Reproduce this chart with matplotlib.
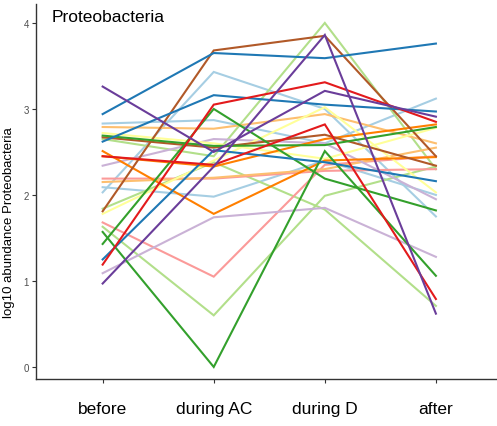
import matplotlib
matplotlib.use("Agg")
import matplotlib.pyplot as plt

plt.rcParams['font.family'] = ['Liberation Sans', 'DejaVu Sans']

categories = ["before", "during AC", "during D", "after"]
y_ticks = [0, 1, 2, 3, 4]
title = "Proteobacteria"
y_label = "log10 abundance Proteobacteria"

# Paired palette colours
c_lblue = "#A6CEE3"
c_blue = "#1F78B4"
c_lgreen = "#B2DF8A"
c_green = "#33A02C"
c_pink = "#FB9A99"
c_red = "#E31A1C"
c_lorange = "#FDBF6F"
c_orange = "#FF7F00"
c_lpurple = "#CAB2D6"
c_purple = "#6A3D9A"
c_yellow = "#FFFF99"
c_brown = "#B15928"

# series values (before, during AC, during D, after)
blue_1 = [2.94, 3.65, 3.59, 3.76]
blue_2 = [2.62, 3.16, 3.05, 2.97]
blue_3 = [1.25, 2.52, 2.38, 2.16]
lblue_1 = [2.03, 3.43, 3.00, 1.75]
lblue_2 = [2.83, 2.87, 2.60, 3.12]
lblue_3 = [2.09, 1.98, 2.40, 2.00]
green_1 = [1.57, 0.00, 2.51, 1.06]
green_2 = [1.43, 3.00, 2.19, 1.82]
green_3 = [2.69, 2.57, 2.58, 2.79]
lgreen_1 = [1.63, 0.60, 1.99, 2.33]
lgreen_2 = [1.84, 2.38, 1.83, 0.71]
lgreen_3 = [2.65, 2.45, 4.00, 2.30]
red_1 = [1.19, 3.05, 3.31, 2.85]
red_2 = [2.45, 2.35, 2.82, 0.79]
purple_1 = [3.26, 2.50, 3.21, 2.91]
purple_2 = [0.97, 2.33, 3.86, 0.62]
lpurple_1 = [1.09, 1.74, 1.85, 1.28]
lpurple_2 = [2.34, 2.65, 2.60, 1.95]
brown_1 = [1.81, 3.68, 3.85, 2.45]
brown_2 = [2.67, 2.55, 2.70, 2.34]
orange_1 = [2.51, 1.78, 2.40, 2.44]
orange_2 = [2.45, 2.33, 2.65, 2.82]
lorange_1 = [2.79, 2.77, 2.94, 2.60]
lorange_2 = [2.15, 2.20, 2.30, 2.55]
pink_1 = [1.68, 1.05, 2.35, 2.45]
pink_2 = [2.19, 2.19, 2.28, 2.30]
yellow_1 = [1.78, 2.40, 3.02, 2.03]
yellow_2 = [2.72, 2.60, 2.42, 2.78]

series = [
    (lblue_1, c_lblue), (lblue_2, c_lblue), (lblue_3, c_lblue),
    (lgreen_1, c_lgreen), (lgreen_2, c_lgreen), (lgreen_3, c_lgreen),
    (pink_1, c_pink), (pink_2, c_pink),
    (lorange_1, c_lorange), (lorange_2, c_lorange),
    (lpurple_1, c_lpurple), (lpurple_2, c_lpurple),
    (yellow_1, c_yellow), (yellow_2, c_yellow),
    (orange_1, c_orange), (orange_2, c_orange),
    (brown_2, c_brown), (brown_1, c_brown),
    (green_3, c_green), (green_2, c_green), (green_1, c_green),
    (blue_3, c_blue), (blue_2, c_blue), (blue_1, c_blue),
    (red_1, c_red), (red_2, c_red),
    (purple_1, c_purple), (purple_2, c_purple),
]

fig = plt.figure(figsize=(4.97, 4.27), dpi=100)
ax = fig.add_axes([36 / 497, 1 - 380 / 427, 1 - 36 / 497, (380 - 5) / 427])

x = list(range(1, len(categories) + 1))
for vals, col in series:
    ax.plot(x, vals, color=col, lw=1.5, solid_joinstyle='miter')

ax.set_xlim(0.4, 4.55)
ax.set_ylim(-0.14, 4.22)
ax.set_xticks(x)
ax.set_xticklabels(categories, fontsize=12.5, color="black")
ax.set_yticks(y_ticks)
ax.set_yticklabels([str(t) for t in y_ticks], fontsize=7, color="#4D4D4D")
ax.tick_params(axis='x', length=3, width=0.8, color="#333333", pad=13)
ax.tick_params(axis='y', length=3, width=0.8, color="#333333", pad=2)
ax.set_ylabel(y_label, fontsize=9.5)
ax.yaxis.set_label_coords(-0.045, 0.42)

for s in ['top', 'right']:
    ax.spines[s].set_visible(False)
for s in ['left', 'bottom']:
    ax.spines[s].set_color("#333333")
    ax.spines[s].set_linewidth(1.0)

fig.text(52 / 497, 1 - 18 / 427, title, fontsize=12.5, va='center', ha='left')

fig.savefig("out.png", dpi=100)
